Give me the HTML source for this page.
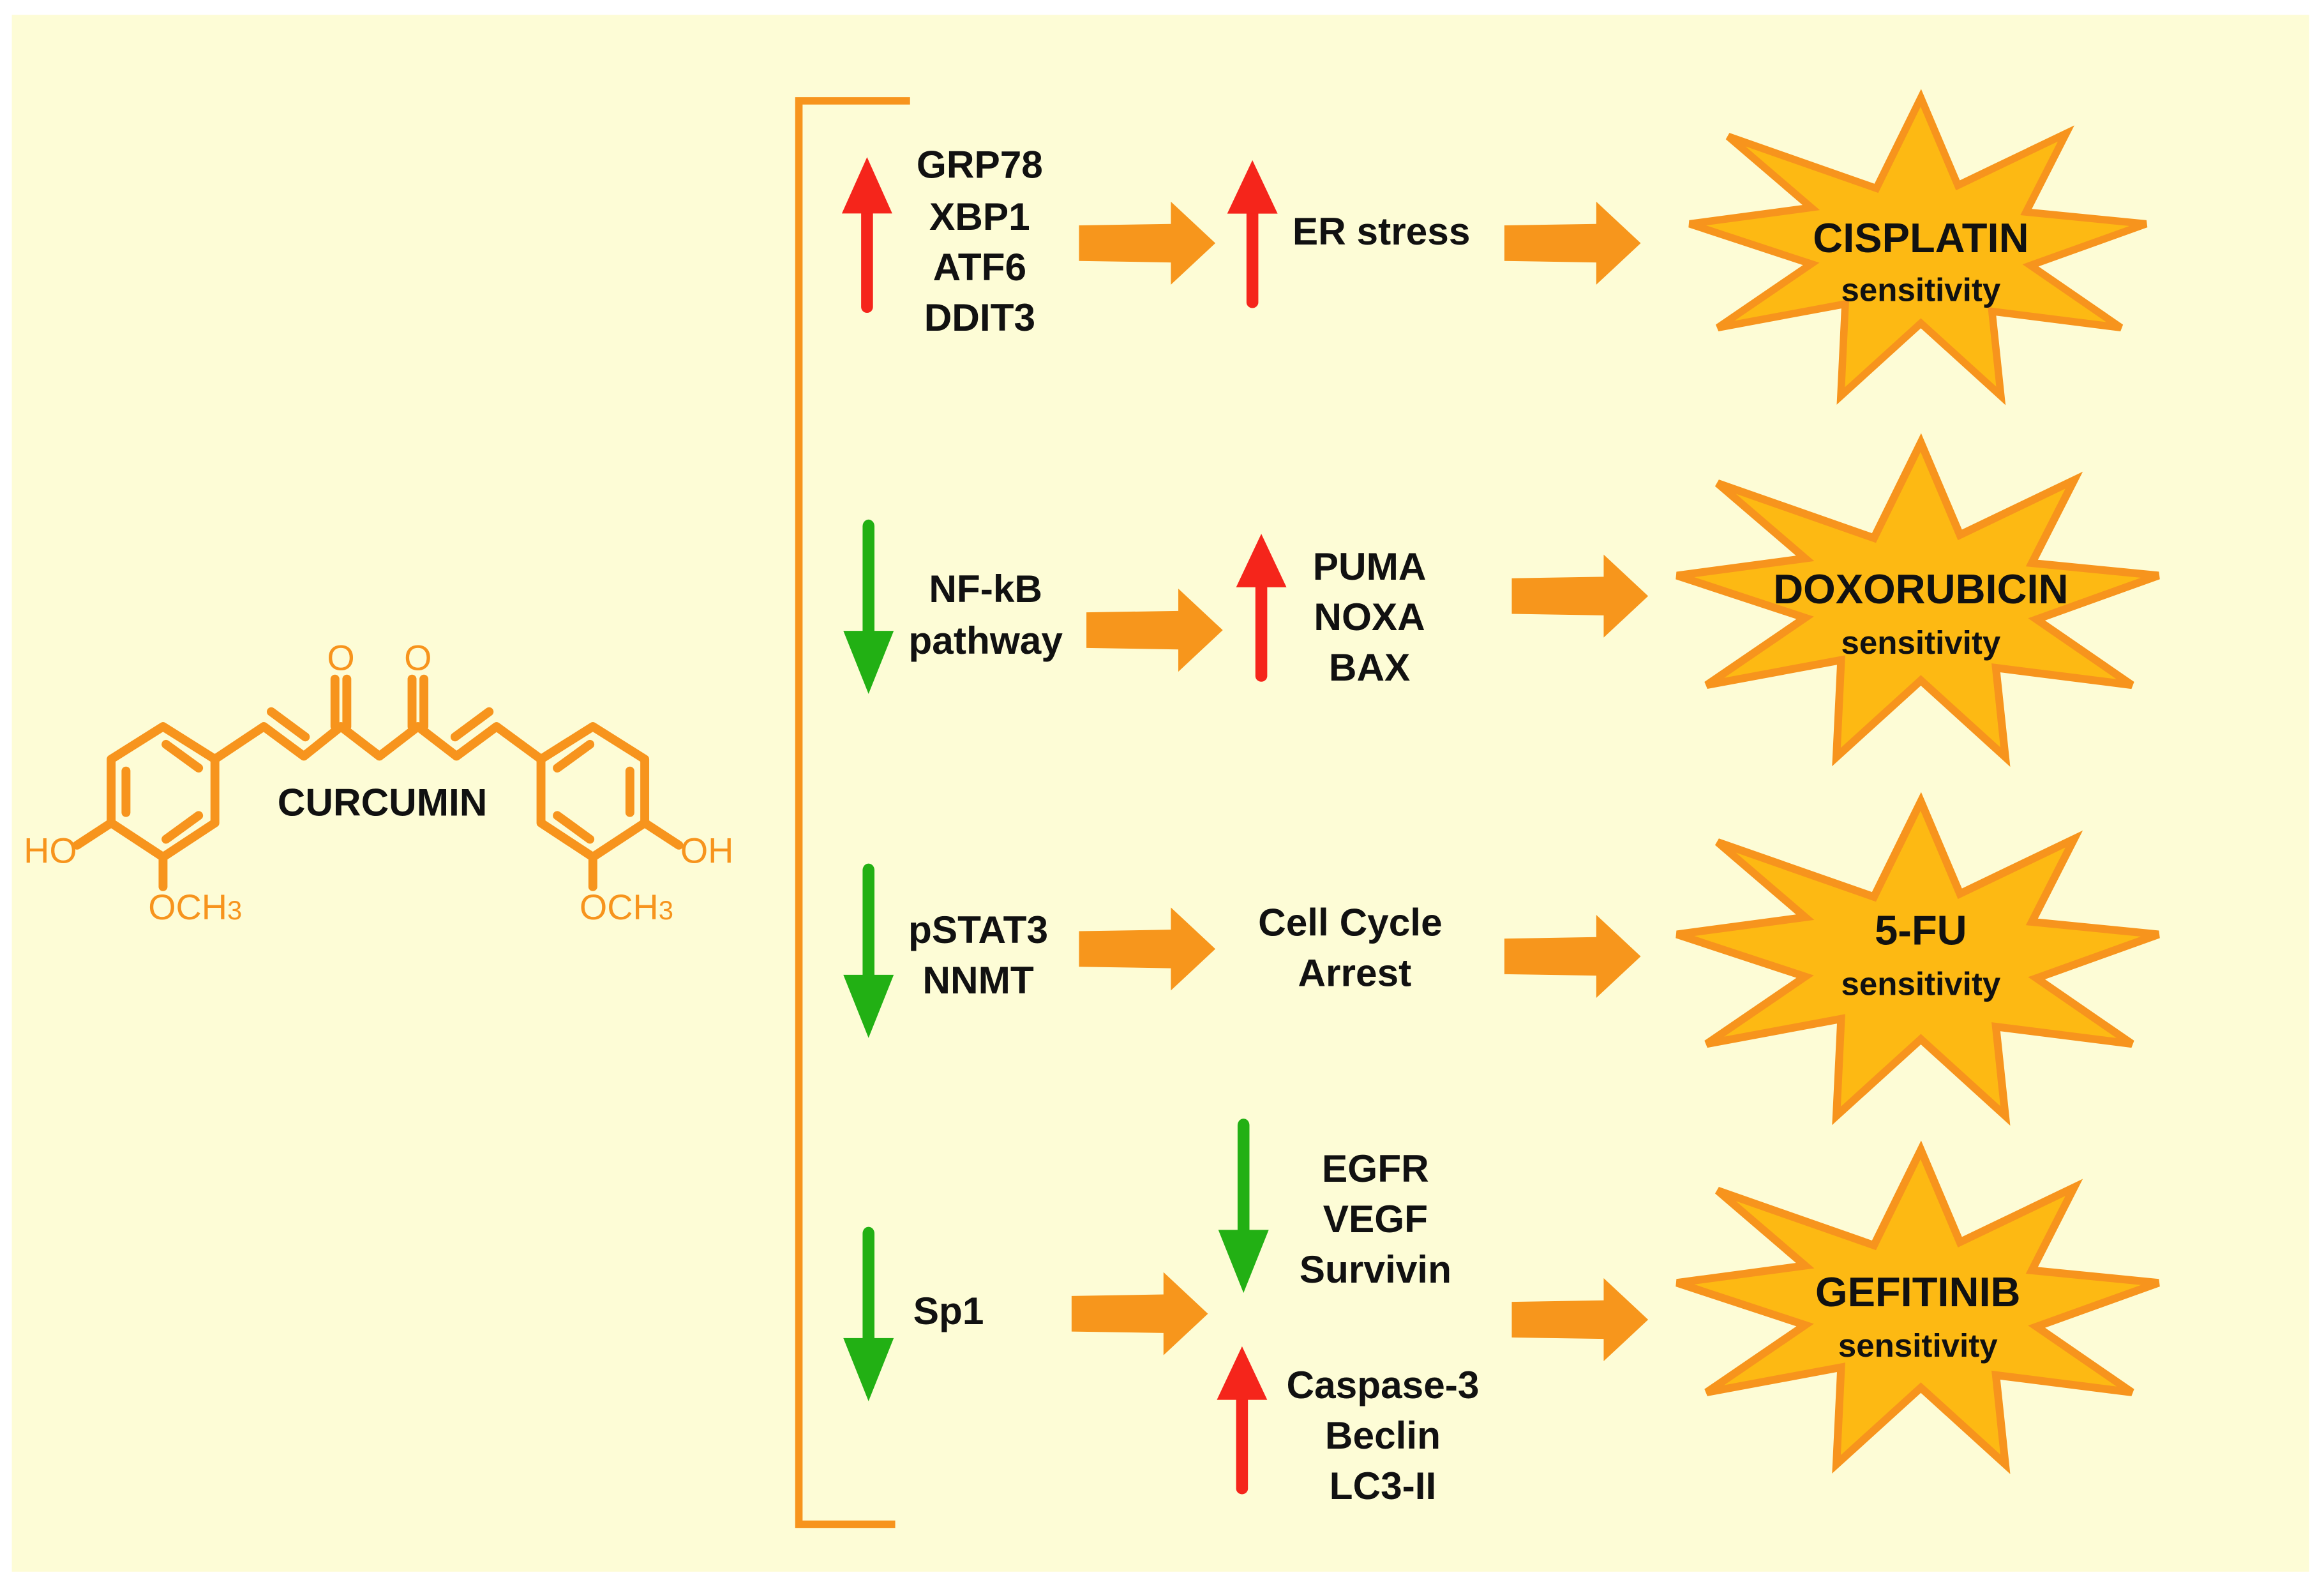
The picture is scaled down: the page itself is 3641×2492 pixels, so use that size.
<!DOCTYPE html>
<html><head><meta charset="utf-8"><style>
html,body{margin:0;padding:0;background:#fff;}
svg{display:block;}
text{font-family:"Liberation Sans",Arial,sans-serif;font-weight:bold;fill:#111;}
</style></head><body>
<svg width="3641" height="2492" viewBox="0 0 1568 1073" preserveAspectRatio="none" xmlns="http://www.w3.org/2000/svg">
<defs>
<polygon id="star" points="1296,66 1321,125 1394,90 1367,143 1448,151 1370,179 1431,221 1344,210 1350,267 1296,218 1242,267 1245,205 1159,221 1222,178 1140,151 1222,140 1166,92 1266,127"/>
<g id="up"><rect x="-4" y="30" width="8" height="75" rx="4"/><polygon points="0,0 -17,38 17,38"/></g>
<g id="big"><polygon points="0,-12 62,-13 62,-28 92,0 62,28 62,13 0,12"/></g>
</defs>
<rect x="8" y="10" width="1550" height="1050" fill="#fdfcd6"/>
<path d="M614,68 L539,68 L539,1028 L604,1028" fill="none" stroke="#f7941d" stroke-width="5"/>
<g fill="#fdb913" stroke="#f7941d" stroke-width="5" stroke-linejoin="miter">
<use href="#star"/>
<use href="#star" transform="translate(1296,404) scale(1.055) translate(-1296,-166)"/>
<use href="#star" transform="translate(1296,646) scale(1.055) translate(-1296,-166)"/>
<use href="#star" transform="translate(1296,881) scale(1.055) translate(-1296,-166)"/>
</g>
<g fill="#f7961c">
<use href="#big" transform="translate(728,164)"/>
<use href="#big" transform="translate(1015,164)"/>
<use href="#big" transform="translate(733,425)"/>
<use href="#big" transform="translate(1020,402)"/>
<use href="#big" transform="translate(728,640)"/>
<use href="#big" transform="translate(1015,645)"/>
<use href="#big" transform="translate(723,886)"/>
<use href="#big" transform="translate(1020,890)"/>
</g>
<g fill="#f5251b">
<use href="#up" transform="translate(585,106)"/>
<use href="#up" transform="translate(845,108) scale(1,0.95)"/>
<use href="#up" transform="translate(851,360) scale(1,0.95)"/>
<use href="#up" transform="translate(838,908) scale(1,0.95)"/>
</g>
<g fill="#22b014">
<use href="#up" transform="translate(586,468) scale(1,-1.12)"/>
<use href="#up" transform="translate(586,700) scale(1,-1.12)"/>
<use href="#up" transform="translate(586,945) scale(1,-1.12)"/>
<use href="#up" transform="translate(839,872) scale(1,-1.12)"/>
</g>
<g font-size="26" text-anchor="middle">
<text x="661" y="120">GRP78</text><text x="661" y="155">XBP1</text><text x="661" y="189">ATF6</text><text x="661" y="223">DDIT3</text>
<text x="932" y="165">ER stress</text>
<text x="665" y="406">NF-kB</text><text x="665" y="441">pathway</text>
<text x="924" y="391">PUMA</text><text x="924" y="425">NOXA</text><text x="924" y="459">BAX</text>
<text x="660" y="636">pSTAT3</text><text x="660" y="670">NNMT</text>
<text x="911" y="631">Cell Cycle</text><text x="914" y="665">Arrest</text>
<text x="928" y="797">EGFR</text><text x="928" y="831">VEGF</text><text x="928" y="865">Survivin</text>
<text x="640" y="893">Sp1</text>
<text x="933" y="943">Caspase-3</text><text x="933" y="977">Beclin</text><text x="933" y="1011">LC3-II</text>
<text x="258" y="550">CURCUMIN</text>
</g>
<g text-anchor="middle">
<text x="1296" y="170" font-size="28">CISPLATIN</text><text x="1296" y="203" font-size="22">sensitivity</text>
<text x="1296" y="407" font-size="28">DOXORUBICIN</text><text x="1296" y="441" font-size="22">sensitivity</text>
<text x="1296" y="637" font-size="28">5-FU</text><text x="1296" y="671" font-size="22">sensitivity</text>
<text x="1294" y="881" font-size="28">GEFITINIB</text><text x="1294" y="915" font-size="22">sensitivity</text>
</g>
<g stroke="#f7941d" stroke-width="6" fill="none" stroke-linecap="round" stroke-linejoin="round">
<polygon points="110,490 145,512 145,555 110,578 75,555 75,512"/>
<line x1="112" y1="502" x2="134" y2="518"/>
<line x1="85" y1="520" x2="85" y2="548"/>
<line x1="112" y1="566" x2="134" y2="550"/>
<polygon points="400,490 435,512 435,555 400,578 365,555 365,512"/>
<line x1="376" y1="518" x2="398" y2="502"/>
<line x1="425" y1="520" x2="425" y2="548"/>
<line x1="376" y1="550" x2="398" y2="566"/>
<polyline points="145,512 178,490 205,510 230,490 256,510 282,490 308,510 335,490 365,512"/>
<line x1="183" y1="480" x2="206" y2="497"/>
<line x1="307" y1="497" x2="330" y2="480"/>
<line x1="226" y1="490" x2="226" y2="458"/><line x1="234" y1="490" x2="234" y2="458"/>
<line x1="278" y1="490" x2="278" y2="458"/><line x1="286" y1="490" x2="286" y2="458"/>
<line x1="75" y1="555" x2="52" y2="570"/>
<line x1="435" y1="555" x2="458" y2="570"/>
<line x1="110" y1="578" x2="110" y2="598"/>
<line x1="400" y1="578" x2="400" y2="598"/>
</g>
<g>
<text x="230" y="452" font-size="24" text-anchor="middle" style="fill:#f7941d;font-weight:normal">O</text>
<text x="282" y="452" font-size="24" text-anchor="middle" style="fill:#f7941d;font-weight:normal">O</text>
<text x="16" y="582" font-size="24" style="fill:#f7941d;font-weight:normal">HO</text>
<text x="459" y="582" font-size="24" style="fill:#f7941d;font-weight:normal">OH</text>
<text x="100" y="620" font-size="24" style="fill:#f7941d;font-weight:normal">OCH<tspan font-size="18">3</tspan></text>
<text x="391" y="620" font-size="24" style="fill:#f7941d;font-weight:normal">OCH<tspan font-size="18">3</tspan></text>
</g>
</svg>
</body></html>
